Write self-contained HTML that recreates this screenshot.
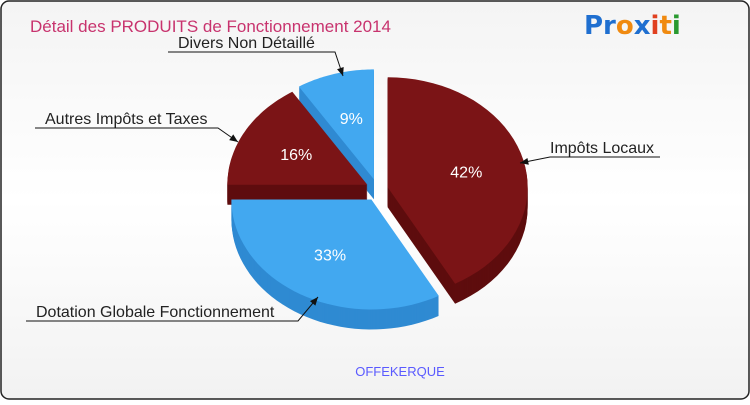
<!DOCTYPE html>
<html><head><meta charset="utf-8"><style>
body{margin:0;width:750px;height:400px;overflow:hidden;font-family:"Liberation Sans",sans-serif}
</style></head><body>
<svg width="750" height="400">
<defs><linearGradient id="bg" x1="0" y1="0" x2="0" y2="1"><stop offset="0" stop-color="#f4f4f4"/><stop offset="0.5" stop-color="#ffffff"/><stop offset="1" stop-color="#f2f2f2"/></linearGradient></defs>
<rect x="1" y="1" width="748" height="398" rx="8" fill="url(#bg)" stroke="#222" stroke-width="1.5"/>
<text x="30" y="32" font-size="17" fill="#c8336e">Détail des PRODUITS de Fonctionnement 2014</text>
<text x="584" y="34" font-size="26" font-weight="bold" font-family="'DejaVu Sans',sans-serif"><tspan fill="#1f6fd0">Pr</tspan><tspan fill="#f08a10">o</tspan><tspan fill="#1f6fd0">x</tspan><tspan fill="#e04020">i</tspan><tspan fill="#f08a10">t</tspan><tspan fill="#2a9a30">i</tspan></text>
<g id="pie"></g>
<g id="labels"></g>
<text x="400" y="376" font-size="13" fill="#5a5aff" text-anchor="middle">OFFEKERQUE</text>
</svg>
<script>
const labels=["Impôts Locaux","Dotation Globale Fonctionnement","Autres Impôts et Taxes","Divers Non Détaillé"];
const values=[42,33,16,9];
const tops=["#7b1416","#42a8f0","#7b1416","#42a8f0"];
const sides=["#5e0d0e","#2f8ad2","#5e0d0e","#2f8ad2"];
const cx=377,cy=190,rx=140,ry=110,depth=20,ex=11;
const NS="http://www.w3.org/2000/svg";
const pie=document.getElementById('pie'),lab=document.getElementById('labels');
const total=values.reduce((a,b)=>a+b,0);
let a=0;const sl=[];
values.forEach((v,i)=>{const a0=a,a1=a+v/total*2*Math.PI;a=a1;sl.push({i,a0,a1,m:(a0+a1)/2});});
function pt(ox,oy,t,k){return [ox+k*rx*Math.sin(t),oy-k*ry*Math.cos(t)];}
function path(s,dy){const ox=cx+ex*Math.sin(s.m),oy=cy-ex*Math.cos(s.m)+dy;
let d=`M${ox},${oy}`;const n=40;for(let j=0;j<=n;j++){const t=s.a0+(s.a1-s.a0)*j/n;const p=pt(ox,oy,t,1);d+=`L${p[0].toFixed(1)},${p[1].toFixed(1)}`;}return d+'Z';}
const order=[3,2,0,1];
order.forEach(k=>{const s=sl[k];const g=document.createElementNS(NS,'g');


for(let d=depth;d>=1;d--){const p=document.createElementNS(NS,'path');p.setAttribute('d',path(s,d));p.setAttribute('fill',sides[s.i]);g.appendChild(p);}
const p=document.createElementNS(NS,'path');p.setAttribute('d',path(s,0));p.setAttribute('fill',tops[s.i]);g.appendChild(p);
const ox=cx+ex*Math.sin(s.m),oy=cy-ex*Math.cos(s.m);const q=pt(ox,oy,s.m,0.58);
const t=document.createElementNS(NS,'text');t.setAttribute('x',q[0]);t.setAttribute('y',q[1]+6);t.setAttribute('fill','#fff');t.setAttribute('font-size','16');t.setAttribute('text-anchor','middle');t.textContent=values[s.i]+'%';


g.appendChild(t);pie.appendChild(g);});
const lpos=[[550,153,655,"start",[520,163],[548,156]],[36,317,298,"start",[318,297],[302,312]],[45,124,218,"start",[238,142],[214,130]],[178,48,335,"start",[343,76],[330,55]]];
lpos.forEach((L,i)=>{const g=document.createElementNS(NS,'g');


const t=document.createElementNS(NS,'text');t.setAttribute('x',L[0]);t.setAttribute('y',L[1]);t.setAttribute('font-size','16');t.setAttribute('fill','#222');t.textContent=labels[i];g.appendChild(t);
const x0=i==0?L[0]-5:L[0]-10, x1=i==0?L[2]+5:L[2];
const ln=document.createElementNS(NS,'path');
const yb=L[1]+4;
const d=i==0?`M${x1},${yb}L${L[0]},${yb}L${L[4][0]},${L[4][1]}`:`M${x0},${yb}L${x1},${yb}L${L[4][0]},${L[4][1]}`;
ln.setAttribute('d',d);ln.setAttribute('stroke','#111');ln.setAttribute('fill','none');g.appendChild(ln);
const [ax,ay]=L[4];const [bx,by]=i==0?[L[0],yb]:[x1,yb];const ang=Math.atan2(ay-by,ax-bx);
const h=document.createElementNS(NS,'path');
const p1=[ax-9*Math.cos(ang-0.4),ay-9*Math.sin(ang-0.4)],p2=[ax-9*Math.cos(ang+0.4),ay-9*Math.sin(ang+0.4)];
h.setAttribute('d',`M${ax},${ay}L${p1}L${p2}Z`);h.setAttribute('fill','#111');g.appendChild(h);
lab.appendChild(g);});
</script>
</body></html>
